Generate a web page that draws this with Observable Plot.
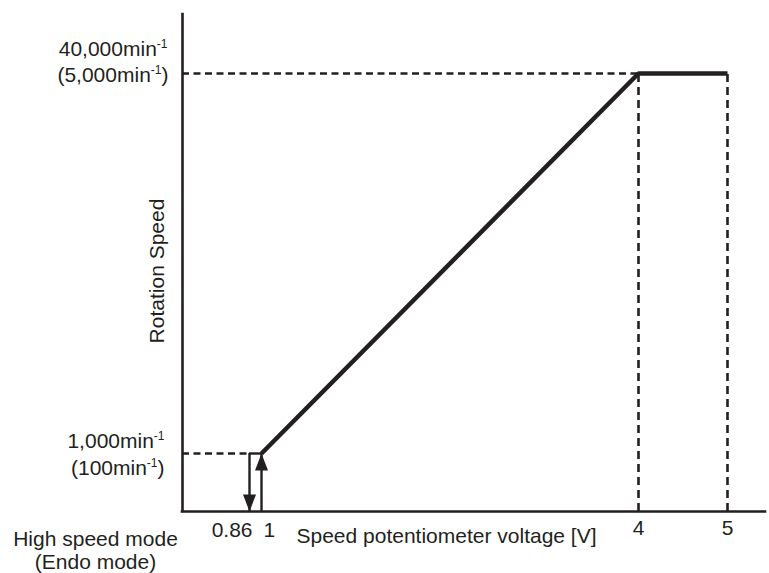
<!DOCTYPE html>
<html><head><meta charset="utf-8">
<script src="https://cdn.jsdelivr.net/npm/d3@7"></script>
<script src="https://cdn.jsdelivr.net/npm/@observablehq/plot@0.6"></script>
<style>
html,body{margin:0;padding:0;background:#fff;}
</style>
</head><body><div id="chart"></div>
<script>
// ---- data ----
const voltageBreaks = [0, 0.86, 1, 4, 5, 5.43];      // schematic (piecewise) voltage axis
const speedBreaks = [0, 1000, 40000, 47000];         // schematic (piecewise) speed axis
const curveVoltage = [1, 4, 5];
const curveSpeed = [1000, 40000, 40000];
const xTickValues = [0.86, 1, 4, 5];
const xTickLabels = ["0.86", "1", "4", "5"];
const yTickValues = [40000, 1000];
const yTickLine1 = ["40,000min-1", "1,000min-1"];
const yTickLine2 = ["(5,000min-1)", "(100min-1)"];
const endoVoltage = 0.86;
const startVoltage = 1;
const minSpeed = 1000;
const maxSpeed = 40000;
const maxVoltage = 5;
const plateauVoltage = 4;
const xLabel = "Speed potentiometer voltage [V]";
const yLabel = "Rotation Speed";
const modeLabel = "High speed mode\n(Endo mode)";

// ---- derived tables ----
const curve = curveVoltage.map((v, i) => ({v, s: curveSpeed[i]}));
const xTicks = xTickValues.map((v, i) => ({v, label: xTickLabels[i]}));
const yTicks = yTickValues.map((s, i) => ({s, l1: yTickLine1[i], l2: yTickLine2[i]}));
const arrows = [
  {v: startVoltage, s: minSpeed, rot: 0},
  {v: endoVoltage, s: 0, rot: 180}
];
const ink = "#231f20";
const arrowHead = {draw(ctx) { ctx.moveTo(0, 0); ctx.lineTo(6.5, 17); ctx.lineTo(-6.5, 17); ctx.closePath(); }};

const plot = Plot.plot({
  width: 769, height: 573,
  marginLeft: 182, marginRight: 4, marginTop: 14, marginBottom: 62,
  style: {fontFamily: "'Liberation Sans', Arial, Helvetica, sans-serif", fontSize: "21px", background: "#fff", color: ink},
  x: {type: "linear", domain: voltageBreaks, range: [182, 249, 261, 638, 727, 765], axis: null},
  y: {type: "linear", domain: speedBreaks, range: [511, 453, 73, 14], axis: null},
  marks: [
    // dashed guides
    Plot.ruleY([maxSpeed], {x1: 0, x2: plateauVoltage, stroke: ink, strokeWidth: 2.4, strokeDasharray: "7,4.5"}),
    Plot.ruleY([minSpeed], {x1: 0, x2: endoVoltage, stroke: ink, strokeWidth: 2.4, strokeDasharray: "7,4.5"}),
    Plot.ruleX([plateauVoltage, maxVoltage], {y1: 0, y2: maxSpeed, stroke: ink, strokeWidth: 2.6, strokeDasharray: "8,5"}),
    // solid bridge between arrows
    Plot.ruleY([minSpeed], {x1: endoVoltage, x2: startVoltage, stroke: ink, strokeWidth: 2.4}),
    // arrow shafts
    Plot.ruleX(arrows, {x: "v", y1: d => d.rot ? minSpeed : 0, y2: d => d.rot ? 0 : minSpeed, stroke: ink, strokeWidth: 2.4}),
    Plot.dot(arrows, {x: "v", y: "s", rotate: "rot", symbol: arrowHead, fill: ink, stroke: "none"}),
    // axes
    Plot.ruleX([0], {y1: 0, y2: speedBreaks[speedBreaks.length - 1], stroke: ink, strokeWidth: 2.6, strokeLinecap: "square"}),
    Plot.ruleY([0], {x1: 0, x2: voltageBreaks[voltageBreaks.length - 1], stroke: ink, strokeWidth: 2.6, strokeLinecap: "square"}),
    // main curve
    Plot.line(curve, {x: "v", y: "s", stroke: ink, strokeWidth: 4.5, strokeLinejoin: "miter", strokeLinecap: "butt"}),
    // x tick labels
    Plot.text(xTicks.filter(d => d.v === endoVoltage), {x: "v", y: 0, text: "label", textAnchor: "end", dx: 3, dy: 19, fill: ink}),
    Plot.text(xTicks.filter(d => d.v === startVoltage), {x: "v", y: 0, text: "label", textAnchor: "start", dx: 2, dy: 19, fill: ink}),
    Plot.text(xTicks.filter(d => d.v > startVoltage), {x: "v", y: 0, text: "label", dy: 17, fill: ink}),
    // y tick labels
    Plot.text(yTicks.filter(d => d.s === maxSpeed), {x: 0, y: "s", text: "l1", textAnchor: "end", dx: -15, dy: -24, fill: ink}),
    Plot.text(yTicks.filter(d => d.s === maxSpeed), {x: 0, y: "s", text: "l2", textAnchor: "end", dx: -14, dy: 2, fill: ink}),
    Plot.text(yTicks.filter(d => d.s === minSpeed), {x: 0, y: "s", text: "l1", textAnchor: "end", dx: -18, dy: -12, fill: ink}),
    Plot.text(yTicks.filter(d => d.s === minSpeed), {x: 0, y: "s", text: "l2", textAnchor: "end", dx: -18, dy: 15, fill: ink}),
    // axis titles
    Plot.text([yLabel], {text: d => d, frameAnchor: "left", textAnchor: "middle", lineAnchor: "middle", rotate: -90, dx: -25, dy: 8, fill: ink}),
    Plot.text([xLabel], {text: d => d, frameAnchor: "bottom-left", textAnchor: "start", lineAnchor: "middle", dx: 114, dy: 25, fill: ink}),
    Plot.text([modeLabel], {text: d => d, frameAnchor: "bottom-left", textAnchor: "middle", lineAnchor: "middle", dx: -87, dy: 39, lineHeight: 1.1, fill: ink})
  ]
});

// superscript "-1" in unit labels
d3.select(plot).selectAll("text").each(function() {
  const t = this;
  const s = t.textContent;
  const i = s.indexOf("min-1");
  if (i < 0) return;
  const before = s.slice(0, i + 3), after = s.slice(i + 5);
  t.textContent = "";
  const sel = d3.select(t);
  sel.append("tspan").text(before);
  sel.append("tspan").attr("font-size", "12px").attr("dy", "-8").text("-1");
  if (after) sel.append("tspan").attr("dy", "8").text(after);
});

document.getElementById("chart").append(plot);
</script>
</body></html>
